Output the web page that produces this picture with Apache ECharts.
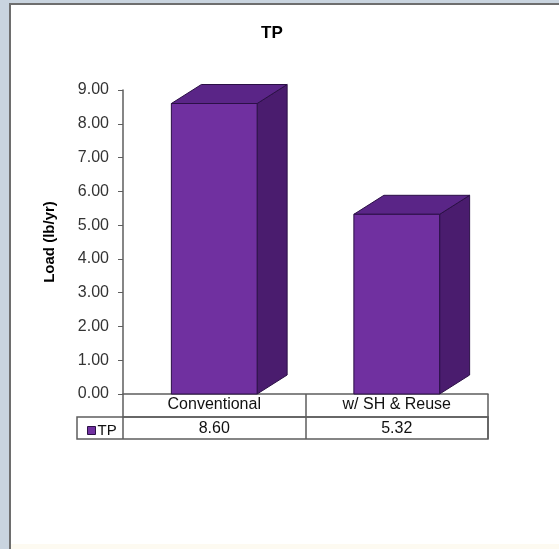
<!DOCTYPE html>
<html>
<head>
<meta charset="utf-8">
<style>
  html, body { margin: 0; padding: 0; background: #c9d4df; }
  #chart { width: 559px; height: 549px; }
</style>
<script src="https://cdn.jsdelivr.net/npm/echarts@6/dist/echarts.min.js"></script>
</head>
<body>
<div id="chart"></div>
<script>
// data
var categories = ['Conventional', 'w/ SH & Reuse']
var seriesName = 'TP'
var tpValues = [8.60, 5.32]
var yTicks = [0, 1, 2, 3, 4, 5, 6, 7, 8, 9]

// layout
var gridLeft = 123
var gridTop = 90
var gridRight = 71
var gridBottom = 155
var rowH = 23
var depthX = 30
var depthY = 19
var fontFam = 'Arial, "Liberation Sans", sans-serif'

var W = 559
var H = 549
var baseY = H - gridBottom
var gridRightX = W - gridRight

function renderBar3d (params, api) {
  var top = api.coord([api.value(0), api.value(1)])
  var base = api.coord([api.value(0), 0])
  var bw = api.size([1, 0])[0] * 0.47
  var x0 = top[0] - bw / 2
  var x1 = top[0] + bw / 2
  var yT = top[1]
  var yB = base[1]
  var edge = '#2b1046'
  return {
    type: 'group',
    children: [
      {
        type: 'polygon',
        shape: { points: [[x1, yT], [x1 + depthX, yT - depthY], [x1 + depthX, yB - depthY], [x1, yB]] },
        style: { fill: '#4a1c6e', stroke: edge, lineWidth: 1 }
      },
      {
        type: 'polygon',
        shape: { points: [[x0, yT], [x0 + depthX, yT - depthY], [x1 + depthX, yT - depthY], [x1, yT]] },
        style: { fill: '#5a2587', stroke: edge, lineWidth: 1 }
      },
      {
        type: 'rect',
        shape: { x: x0, y: yT, width: bw, height: yB - yT },
        style: { fill: '#7030a0', stroke: edge, lineWidth: 1 }
      }
    ]
  }
}

var myChart = echarts.init(document.getElementById('chart'))
var option = {
  animation: false,
  backgroundColor: 'transparent',
  graphic: [
    {
      type: 'rect', z: -10,
      shape: { x: 10, y: 4, width: W, height: H },
      style: { fill: '#ffffff', stroke: '#6e6e6e', lineWidth: 2 }
    },
    {
      type: 'rect', z: -9,
      shape: { x: 11, y: H - 5, width: W, height: 5 },
      style: { fill: '#fdfaf1' }
    },
    {
      type: 'rect', z: 5,
      shape: { x: gridLeft - 46, y: baseY + rowH, width: gridRightX - gridLeft + 46, height: rowH - 1 },
      style: { fill: 'none', stroke: '#5e5e5e', lineWidth: 1.5 }
    }
  ],
  title: {
    text: 'TP',
    left: 256,
    top: 20,
    textStyle: { fontFamily: fontFam, fontSize: 17, fontWeight: 'bold', color: '#000' }
  },
  legend: {
    data: [seriesName],
    left: gridLeft - 41,
    top: baseY + rowH + 1,
    icon: 'rect',
    itemWidth: 8,
    itemHeight: 8,
    itemGap: 2,
    textStyle: { fontFamily: fontFam, fontSize: 15, color: '#111', padding: [0, 0, 0, -3] },
    itemStyle: { color: '#7030a0', borderColor: '#2b1046', borderWidth: 1 }
  },
  grid: { left: gridLeft, top: gridTop, right: gridRight, bottom: gridBottom },
  xAxis: [
    {
      type: 'category',
      data: categories,
      position: 'bottom',
      axisLine: { show: true, lineStyle: { color: '#5e5e5e', width: 1.5 } },
      axisTick: { show: true, length: rowH, lineStyle: { color: '#5e5e5e', width: 1.5 } },
      axisLabel: { margin: 3, fontFamily: fontFam, fontSize: 16, color: '#111' }
    },
    {
      type: 'category',
      data: tpValues.map(function (v) { return v.toFixed(2) }),
      position: 'bottom',
      offset: rowH,
      axisLine: { show: true, lineStyle: { color: '#5e5e5e', width: 1.5 } },
      axisTick: { show: true, length: rowH - 1, lineStyle: { color: '#5e5e5e', width: 1.5 } },
      axisLabel: { margin: 4, fontFamily: fontFam, fontSize: 16, color: '#111' }
    }
  ],
  yAxis: {
    type: 'value',
    min: yTicks[0],
    max: yTicks[yTicks.length - 1],
    interval: 1,
    name: 'Load (lb/yr)',
    nameLocation: 'middle',
    nameGap: 66,
    nameTextStyle: { fontFamily: fontFam, fontSize: 15, fontWeight: 'bold', color: '#000' },
    axisLine: { show: true, lineStyle: { color: '#5e5e5e', width: 1.5 } },
    axisTick: { show: true, length: 5, lineStyle: { color: '#5e5e5e' } },
    axisLabel: {
      margin: 14,
      fontFamily: fontFam,
      fontSize: 16,
      color: '#333',
      formatter: function (v) { return v.toFixed(2) }
    },
    splitLine: { show: false }
  },
  series: [{
    name: seriesName,
    type: 'custom',
    xAxisIndex: 0,
    renderItem: renderBar3d,
    itemStyle: { color: '#7030a0', borderColor: '#2b1046' },
    encode: { x: 0, y: 1 },
    data: tpValues.map(function (v, i) { return [i, v] }),
    z: 2
  }]
}
myChart.setOption(option)
window.addEventListener('resize', function () {
  myChart.resize()
})
</script>
</body>
</html>
